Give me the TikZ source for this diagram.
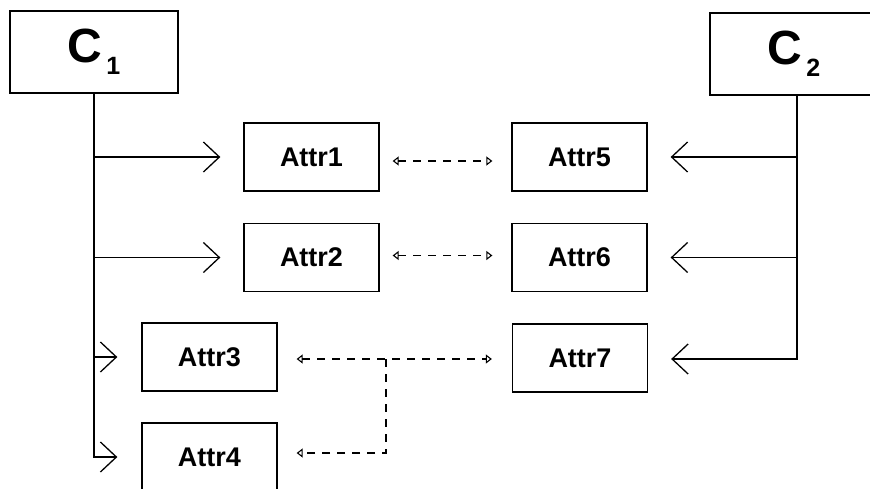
\documentclass[tikz,border=0pt]{standalone}
\usepackage{fontspec}
\setmainfont{Liberation Sans}
\usetikzlibrary{arrows.meta,calc}

\tikzset{
  classbox/.style={draw, line width=1.3pt, minimum width=168pt, minimum height=82pt,
    inner sep=0pt, font=\bfseries},
  attrbox/.style={draw, line width=1.3pt, minimum width=135pt, minimum height=68pt,
    inner sep=0pt, font=\fontsize{27}{27}\selectfont\bfseries},
  link/.style={line width=1.3pt, -{Straight Barb[length=16pt, width=30pt, line width=1.3pt]}},
  trunk/.style={line width=1.3pt},
  pairing/.style={line width=1.2pt, dash pattern=on 8pt off 7pt,
    {Triangle[open, length=6pt, width=9pt, line width=1.1pt]}-{Triangle[open, length=6pt, width=9pt, line width=1.1pt]}},
  pairingone/.style={line width=1.2pt, dash pattern=on 8pt off 7pt,
    -{Triangle[open, length=6pt, width=9pt, line width=1.1pt]}}
}

\newcommand{\classname}[2]{\fontsize{48}{48}\selectfont\bfseries #1\kern4pt\raisebox{-12pt}{\fontsize{25}{25}\selectfont\bfseries #2}}

\begin{document}
\begin{tikzpicture}[x=1pt, y=-1pt]
  \useasboundingbox (0,0) rectangle (870,488);
  \fill[white] (0,0) rectangle (870,488);
  \clip (0,0) rectangle (870,488);

  % class boxes
  \node[classbox] (C1) at (94,52) {\classname{C}{1}};
  \node[classbox] (C2) at (794,54) {\classname{C}{2}};

  % attribute boxes
  \node[attrbox] (A1) at (311.5,157) {Attr1};
  \node[attrbox] (A2) at (311.5,257.5) {Attr2};
  \node[attrbox] (A3) at (209.5,357) {Attr3};
  \node[attrbox] (A4) at (209.5,457) {Attr4};
  \node[attrbox] (A5) at (579.5,157) {Attr5};
  \node[attrbox] (A6) at (579.5,257.5) {Attr6};
  \node[attrbox] (A7) at (580,358) {Attr7};

  % C1 trunk and its branches
  \draw[link] (C1.south) |- ([xshift=-24pt]A4.west);
  \draw[link] (C1.south |- A1.west) -- ([xshift=-23pt]A1.west);
  \draw[link] (C1.south |- A2.west) -- ([xshift=-23pt]A2.west);
  \draw[link] (C1.south |- A3.west) -- ([xshift=-24pt]A3.west);

  % C2 trunk and its branches
  \coordinate (C2r) at ([xshift=3pt]C2.south);
  \draw[link] (C2r) |- ([xshift=23pt,yshift=-1pt]A7.east);
  \draw[link] (C2r |- A5.east) -- ([xshift=23pt]A5.east);
  \draw[link] (C2r |- A6.east) -- ([xshift=23pt]A6.east);

  % dashed pairings between attributes
  \draw[pairing] ([xshift=13pt,yshift=-4pt]A1.east) -- ([xshift=-19pt,yshift=-4pt]A5.west);
  \draw[pairing] ([xshift=13pt,yshift=2pt]A2.east) -- ([xshift=-19pt,yshift=2pt]A6.west);
  \draw[pairing] ([xshift=19pt,yshift=-2pt]A3.east) -- ([xshift=-20pt,yshift=-1pt]A7.west);
  \coordinate (J) at (386,359);
  \draw[pairingone] (J) |- ([xshift=19pt,yshift=4pt]A4.east);
\end{tikzpicture}
\end{document}
